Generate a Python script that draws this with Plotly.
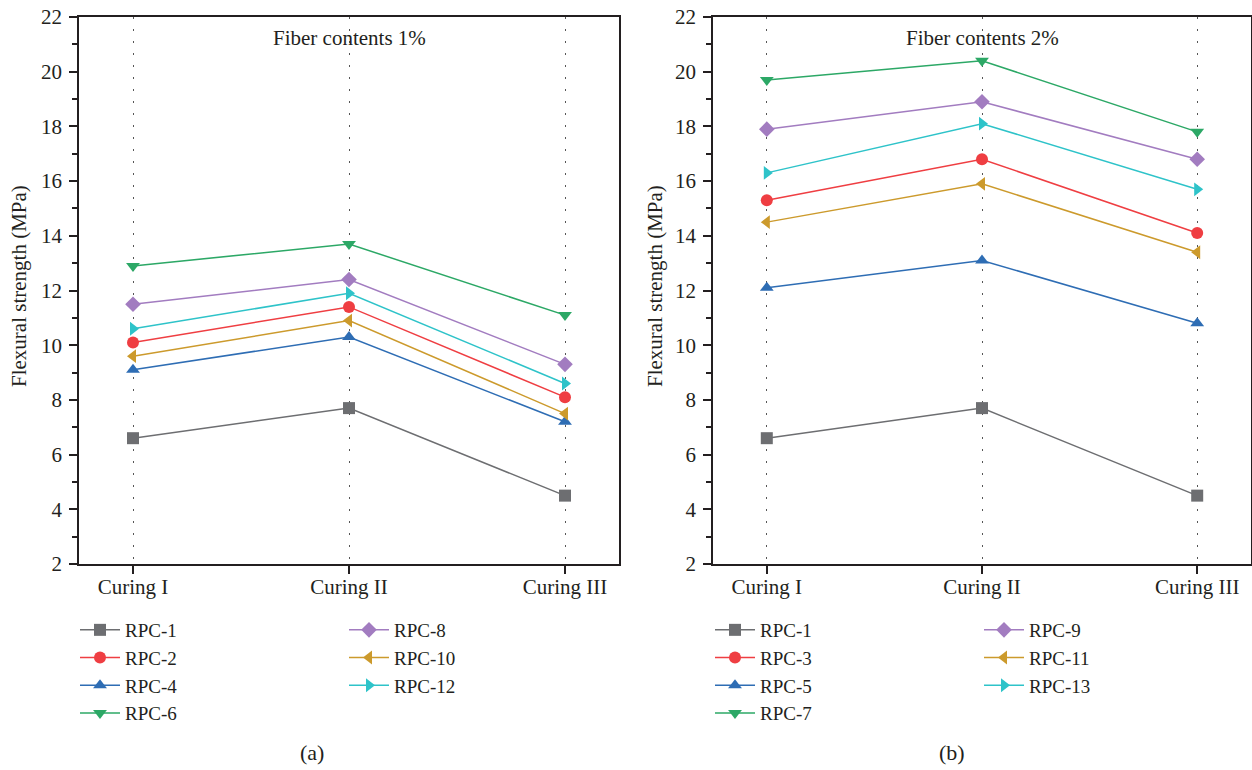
import plotly.graph_objects as go

# ---------------- data ----------------
curing = ["Curing I", "Curing II", "Curing III"]

names_a = ["RPC-1", "RPC-2", "RPC-4", "RPC-6", "RPC-8", "RPC-10", "RPC-12"]
rpc1_a = [6.6, 7.7, 4.5]
rpc2_a = [10.1, 11.4, 8.1]
rpc4_a = [9.1, 10.3, 7.2]
rpc6_a = [12.9, 13.7, 11.1]
rpc8_a = [11.5, 12.4, 9.3]
rpc10_a = [9.6, 10.9, 7.5]
rpc12_a = [10.6, 11.9, 8.6]

names_b = ["RPC-1", "RPC-3", "RPC-5", "RPC-7", "RPC-9", "RPC-11", "RPC-13"]
rpc1_b = [6.6, 7.7, 4.5]
rpc3_b = [15.3, 16.8, 14.1]
rpc5_b = [12.1, 13.1, 10.8]
rpc7_b = [19.7, 20.4, 17.8]
rpc9_b = [17.9, 18.9, 16.8]
rpc11_b = [14.5, 15.9, 13.4]
rpc13_b = [16.3, 18.1, 15.7]

panel_titles = ["Fiber contents 1%", "Fiber contents 2%"]
panel_labels = ["(a)", "(b)"]
y_title = "Flexural strength (MPa)"

# ---------------- styles ----------------
colors = ["#6d6e71", "#ef3e42", "#2e6db4", "#2ca866", "#a27cc0", "#cc9a2c", "#2ec3c9"]
symbols = ["square", "circle", "triangle-up", "triangle-down", "diamond",
           "triangle-left", "triangle-right"]
FONT = "Liberation Serif"
TXT = "#231f20"
FS = 21

W, H = 1252, 770
fig = go.Figure()

series_a = [rpc1_a, rpc2_a, rpc4_a, rpc6_a, rpc8_a, rpc10_a, rpc12_a]
series_b = [rpc1_b, rpc3_b, rpc5_b, rpc7_b, rpc9_b, rpc11_b, rpc13_b]

for p, (names, series) in enumerate([(names_a, series_a), (names_b, series_b)]):
    xa = "x" if p == 0 else "x2"
    ya = "y" if p == 0 else "y2"
    for i, (nm, vals) in enumerate(zip(names, series)):
        if p == 0:
            lg = "legend" if i < 4 else "legend2"
        else:
            lg = "legend3" if i < 4 else "legend4"
        fig.add_trace(go.Scatter(
            x=curing, y=vals, name=nm, mode="lines+markers",
            xaxis=xa, yaxis=ya, legend=lg,
            line=dict(color=colors[i], width=1.5),
            marker=dict(symbol=symbols[i], size=12, color=colors[i]),
        ))

axis_common = dict(
    showline=True, linecolor=TXT, linewidth=1.5, mirror=True,
    ticks="outside", ticklen=8, tickwidth=1.5, tickcolor=TXT,
    tickfont=dict(family=FONT, size=FS, color=TXT),
    zeroline=False, automargin=False,
)

dom_a = [79 / W, 619 / W]
dom_b = [713 / W, 1251 / W]
ydom = [1 - 564 / H, 1 - 17 / H]

for p, dom in enumerate([dom_a, dom_b]):
    sx = "" if p == 0 else "2"
    fig.update_layout(**{
        f"xaxis{sx}": dict(
            axis_common, domain=dom, anchor=f"y{sx}", type="category",
            range=[-0.25, 2.25], ticklabelstandoff=-5,
            showgrid=True, gridcolor="#555555", gridwidth=1.2,
            griddash="2px,10px",
        ),
        f"yaxis{sx}": dict(
            axis_common, domain=ydom, anchor=f"x{sx}",
            range=[2, 22], tickvals=list(range(2, 23, 2)),
            showgrid=False, ticklabelstandoff=3,
            minor=dict(ticks="outside", ticklen=5, tickwidth=1.5,
                       tickcolor=TXT, dtick=1, showgrid=False),
        ),
    })

LFS = 19
leg_common = dict(
    orientation="v", bgcolor="rgba(0,0,0,0)", borderwidth=0,
    font=dict(family=FONT, size=LFS, color=TXT),
    xanchor="left", yanchor="top", itemwidth=40, tracegroupgap=0,
    itemclick=False, itemdoubleclick=False,
)
leg_top = 1 - 611 / H
fig.update_layout(
    legend=dict(leg_common, x=75 / W, y=leg_top),
    legend2=dict(leg_common, x=344 / W, y=leg_top),
    legend3=dict(leg_common, x=710 / W, y=leg_top),
    legend4=dict(leg_common, x=979 / W, y=leg_top),
)

anns = []
for p, xr in enumerate(["x", "x2"]):
    anns.append(dict(
        text=panel_titles[p], x="Curing II", xref=xr, y=1 - 38 / H, yref="paper",
        showarrow=False, font=dict(family=FONT, size=FS, color=TXT),
        xanchor="center", yanchor="middle",
    ))
# y-axis titles
for xpix in (19, 655):
    anns.append(dict(
        text=y_title, x=xpix / W, y=1 - 286 / H, xref="paper", yref="paper",
        showarrow=False, textangle=-90, xanchor="center", yanchor="middle",
        font=dict(family=FONT, size=21, color=TXT),
    ))
# panel labels
for lbl, xpix in zip(panel_labels, (312, 952)):
    anns.append(dict(
        text=lbl, x=xpix / W, y=1 - 752 / H, xref="paper", yref="paper",
        showarrow=False, xanchor="center", yanchor="middle",
        font=dict(family=FONT, size=FS + 1, color=TXT),
    ))

fig.update_layout(
    width=W, height=H,
    margin=dict(l=0, r=0, t=0, b=0, autoexpand=False),
    paper_bgcolor="white", plot_bgcolor="white",
    annotations=anns, showlegend=True,
    font=dict(family=FONT, color=TXT),
)

fig.write_html("out.html", config={"displayModeBar": False},
               post_script="document.body.style.margin='0px';document.body.style.padding='0px';")
